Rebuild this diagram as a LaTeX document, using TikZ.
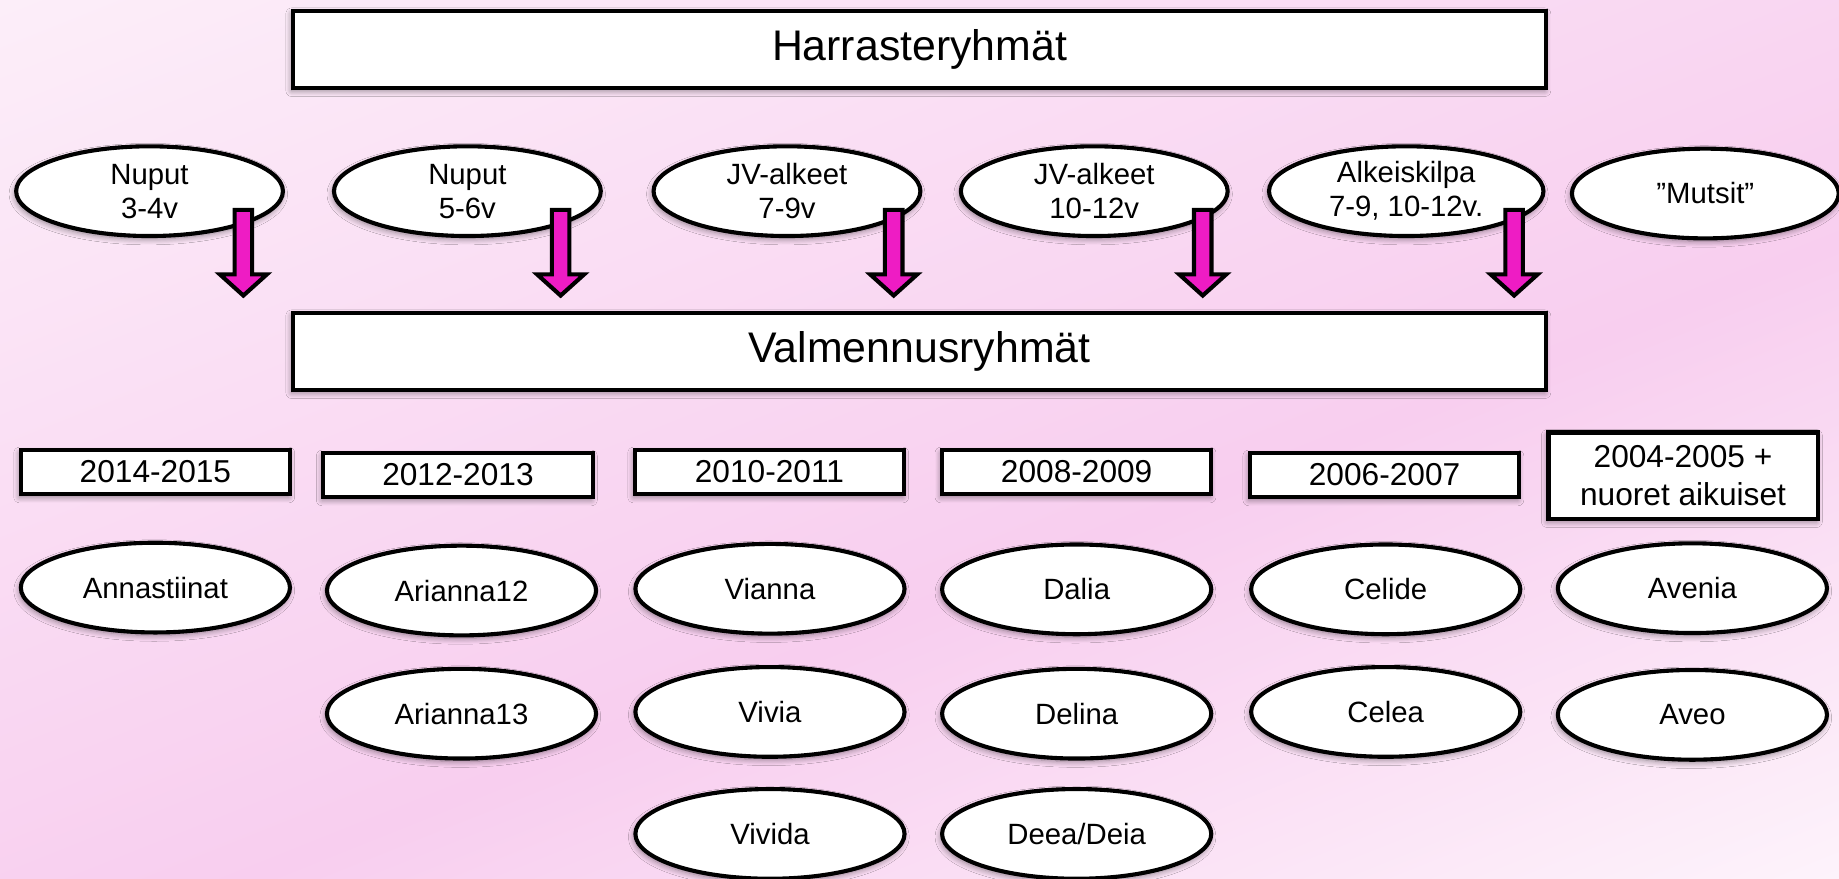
\documentclass[tikz,border=0pt]{standalone}
\usepackage{fontspec}
\setmainfont{Liberation Sans}
\usetikzlibrary{shapes.geometric,shadows.blur,calc}
\definecolor{bgA}{RGB}{252,238,249}
\definecolor{bgB}{RGB}{248,206,239}
\definecolor{bgC}{RGB}{253,243,251}
\definecolor{arrowpink}{RGB}{238,28,196}
\pgfdeclareverticalshading{bgshade}{100bp}{color(0bp)=(bgC); color(17.5bp)=(bgC); color(43bp)=(bgB); color(82.5bp)=(bgA); color(100bp)=(bgA)}
\begin{document}
\begin{tikzpicture}[x=1pt,y=-1pt,
  softshadow/.style={blur shadow={shadow xshift=-1pt,shadow yshift=-2.5pt,shadow blur radius=5pt,shadow blur steps=8,shadow opacity=45}},
  headbox/.style={draw=black,line width=3.5pt,fill=white,softshadow,minimum width=1068.5pt,minimum height=65.5pt,inner sep=0pt,font=\fontsize{36.5}{42}\selectfont},
  topell/.style={ellipse,draw=black,line width=3.5pt,fill=white,softshadow,minimum width=227.5pt,minimum height=76.5pt,inner sep=0pt,align=center,font=\fontsize{25}{29}\selectfont},
  yearbox/.style={draw=black,line width=3.5pt,fill=white,softshadow,minimum width=229.5pt,minimum height=37.5pt,inner sep=0pt,align=center,font=\fontsize{27}{33}\selectfont},
  grpell/.style={ellipse,draw=black,line width=3.5pt,fill=white,softshadow,minimum width=229.5pt,minimum height=76.5pt,inner sep=0pt,font=\fontsize{25}{29}\selectfont},
  blockarrow/.style={draw=black,line width=3.5pt,fill=arrowpink,line join=miter,
    to path={let \p1=(\tikztostart),\p2=(\tikztotarget) in
      (\x1-7.5pt,\y1) -- (\x1+7.5pt,\y1) -- (\x1+7.5pt,\y2+18pt) -- (\x1+20pt,\y2+18pt) -- (\x1,\y2) -- (\x1-20pt,\y2+18pt) -- (\x1-7.5pt,\y2+18pt) -- cycle}}
]
\useasboundingbox (0,0) rectangle (1568,749);
\shade[shading=bgshade,shading angle=21.8] (0,0) rectangle (1568,749);

% header boxes
\node[headbox] (harr) at (784,42) {Harrasteryhmät};
\node[headbox] (valm) at (784,299.5) {Valmennusryhmät};

% hobby groups
\node[topell] (nup34) at (127.5,163) {Nuput\\3-4v};
\node[topell] (nup56) at (398.5,163) {Nuput\\5-6v};
\node[topell] (jv79) at (671,163) {JV-alkeet\\7-9v};
\node[topell] (jv1012) at (933,163) {JV-alkeet\\10-12v};
\node[topell,minimum width=234pt] (alk) at (1199,163) {Alkeiskilpa\\7-9, 10-12v.};
\node[topell] (muts) at (1454,165) {”Mutsit”};

% year boxes
\node[yearbox] (y1415) at (132.5,402.5) {2014-2015};
\node[yearbox] (y1213) at (390.5,405) {2012-2013};
\node[yearbox] (y1011) at (656,402.5) {2010-2011};
\node[yearbox] (y0809) at (918,402.5) {2008-2009};
\node[yearbox] (y0607) at (1180.5,405) {2006-2007};
\node[yearbox,minimum height=73.5pt] (y0405) at (1435,405.5) {2004-2005 +\\nuoret aikuiset};

% training groups
\node[grpell] (annas) at (132.5,501) {Annastiinat};
\node[grpell] (ari12) at (393.5,503.5) {Arianna12};
\node[grpell] (vianna) at (656.5,502) {Vianna};
\node[grpell] (dalia) at (918,502.5) {Dalia};
\node[grpell] (celide) at (1181.5,502.5) {Celide};
\node[grpell] (avenia) at (1443,501.5) {Avenia};
\node[grpell] (ari13) at (393.5,608.5) {Arianna13};
\node[grpell] (vivia) at (656.5,607) {Vivia};
\node[grpell] (delina) at (918,608.5) {Delina};
\node[grpell] (celea) at (1181.5,607) {Celea};
\node[grpell] (aveo) at (1443,609.5) {Aveo};
\node[grpell] (vivida) at (656.5,711) {Vivida};
\node[grpell] (deea) at (918,711) {Deea/Deia};

% arrows
\coordinate (a1s) at (207.5,179);  \coordinate (a1e) at (207.5,252);
\coordinate (a2s) at (478,179);    \coordinate (a2e) at (478,252);
\coordinate (a3s) at (762,179);    \coordinate (a3e) at (762,252);
\coordinate (a4s) at (1025.5,179); \coordinate (a4e) at (1025.5,252);
\coordinate (a5s) at (1291,179);   \coordinate (a5e) at (1291,252);
\draw[blockarrow] (a1s) to (a1e);
\draw[blockarrow] (a2s) to (a2e);
\draw[blockarrow] (a3s) to (a3e);
\draw[blockarrow] (a4s) to (a4e);
\draw[blockarrow] (a5s) to (a5e);
\end{tikzpicture}
\end{document}
